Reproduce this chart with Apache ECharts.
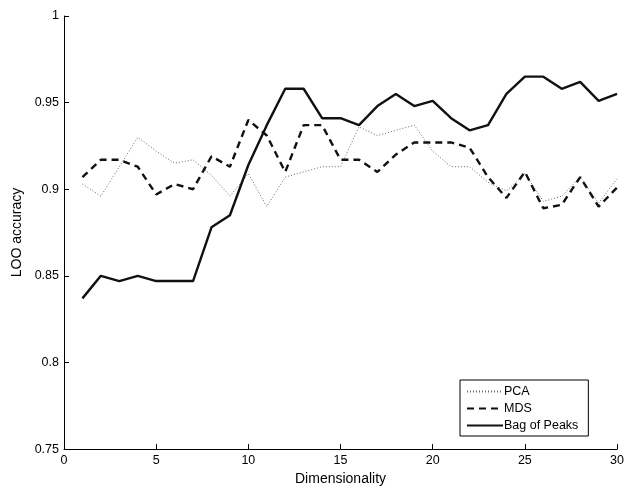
<!DOCTYPE html>
<html>
<head>
<meta charset="utf-8">
<script src="https://cdn.jsdelivr.net/npm/echarts@6/dist/echarts.min.js"></script>
<style>
  html, body { margin: 0; padding: 0; background: #fff; }
  #chart { width: 627px; height: 491px; }
</style>
</head>
<body>
<div id="chart"></div>
<script>
// dimensionality 1..30
var dims = [];
for (var i = 1; i <= 30; i++) dims.push(i);

var pca = [0.903, 0.896, 0.913, 0.930, 0.922, 0.915, 0.917, 0.908, 0.896, 0.909,
  0.890, 0.907, 0.910, 0.913, 0.913, 0.936, 0.931, 0.934, 0.937, 0.922,
  0.913, 0.913, 0.904, 0.899, 0.909, 0.893, 0.896, 0.907, 0.892, 0.906];
var mds = [0.907, 0.917, 0.917, 0.913, 0.897, 0.903, 0.900, 0.919, 0.913, 0.940,
  0.931, 0.910, 0.937, 0.937, 0.917, 0.917, 0.910, 0.920, 0.927, 0.927,
  0.927, 0.924, 0.907, 0.895, 0.910, 0.889, 0.891, 0.907, 0.890, 0.901];
var bop = [0.837, 0.850, 0.847, 0.850, 0.847, 0.847, 0.847, 0.878, 0.885, 0.914,
  0.937, 0.958, 0.958, 0.941, 0.941, 0.937, 0.948, 0.955, 0.948, 0.951,
  0.941, 0.934, 0.937, 0.955, 0.965, 0.965, 0.958, 0.962, 0.951, 0.955];

function pairs(vals) {
  return vals.map(function (v, i) { return [dims[i], v]; });
}

var chart = echarts.init(document.getElementById('chart'));
var font = 'Liberation Sans, Arial, sans-serif';

chart.setOption({
  animation: false,
  grid: { left: 64, right: 6, top: 16, bottom: 36 },
  legend: {
    orient: 'vertical',
    left: 460,
    top: 380,
    width: 127,
    itemWidth: 36,
    itemHeight: 10,
    itemGap: 4,
    padding: [5, 10, 4, 6],
    borderColor: '#000',
    borderWidth: 1,
    itemStyle: { opacity: 0 },
    textStyle: { fontFamily: font, fontSize: 12.5, color: '#000', padding: [0, 0, 0, -4] },
    data: ['PCA', 'MDS', 'Bag of Peaks']
  },
  xAxis: {
    type: 'value',
    min: 0, max: 30, interval: 5,
    name: 'Dimensionality',
    nameLocation: 'middle',
    nameGap: 21,
    nameTextStyle: { fontFamily: font, fontSize: 14, color: '#000' },
    axisLine: { lineStyle: { color: '#000', width: 1 } },
    axisTick: { inside: true, length: 5, lineStyle: { color: '#000' } },
    axisLabel: { fontFamily: font, fontSize: 12.5, color: '#000', margin: 5 },
    splitLine: { show: false }
  },
  yAxis: {
    type: 'value',
    min: 0.75, max: 1, interval: 0.05,
    name: 'LOO accuracy',
    nameLocation: 'middle',
    nameGap: 40,
    nameTextStyle: { fontFamily: font, fontSize: 14, color: '#000' },
    axisLine: { show: true, lineStyle: { color: '#000', width: 1 } },
    axisTick: { show: true, inside: true, length: 5, lineStyle: { color: '#000' } },
    axisLabel: { fontFamily: font, fontSize: 12.5, color: '#000', margin: 5,
      formatter: function (v) { return String(parseFloat(v.toFixed(2))); } },
    splitLine: { show: false }
  },
  series: [
    {
      name: 'PCA', type: 'line', data: pairs(pca), symbol: 'none',
      lineStyle: { color: '#666', width: 1, type: [1, 2] },
      itemStyle: { color: '#666' }
    },
    {
      name: 'MDS', type: 'line', data: pairs(mds), symbol: 'none',
      lineStyle: { color: '#111', width: 2.4, type: [7, 5] },
      itemStyle: { color: '#111' }
    },
    {
      name: 'Bag of Peaks', type: 'line', data: pairs(bop), symbol: 'none',
      lineStyle: { color: '#111', width: 2.4 },
      itemStyle: { color: '#111' }
    }
  ]
});
</script>
</body>
</html>
